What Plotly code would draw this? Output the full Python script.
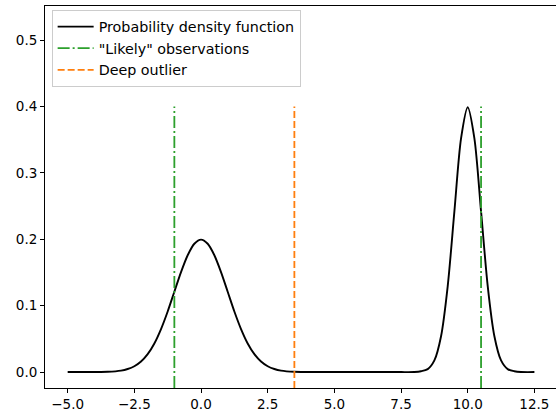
import plotly.graph_objects as go

# Density curve samples (x, density)
pdf_x = [-5.0, -4.5, -4.0, -3.5, -3.0, -2.75, -2.5, -2.25, -2.0, -1.75, -1.5, -1.25, -1.0,
         -0.75, -0.5, -0.25, 0.0, 0.25, 0.5, 0.75, 1.0, 1.25, 1.5, 1.75, 2.0, 2.25, 2.5,
         2.75, 3.0, 3.5, 4.0, 4.5, 5.0, 6.0, 7.0, 7.5, 8.0, 8.25, 8.5, 8.75, 9.0, 9.25,
         9.5, 9.75, 10.0, 10.25, 10.5, 10.75, 11.0, 11.25, 11.5, 11.75, 12.0, 12.5]
pdf_y = [0.0, 0.0000, 0.0001, 0.0004, 0.0022, 0.0046, 0.0088, 0.0159, 0.0270, 0.0431,
         0.0648, 0.0913, 0.1210, 0.1506, 0.1760, 0.1933, 0.1995, 0.1933, 0.1760, 0.1506,
         0.1210, 0.0913, 0.0648, 0.0431, 0.0270, 0.0159, 0.0088, 0.0046, 0.0022, 0.0004,
         0.0001, 0.0, 0.0, 0.0, 0.0, 0.0, 0.0001, 0.0012, 0.0044, 0.0175, 0.0540, 0.1296,
         0.2420, 0.3520, 0.3990, 0.3520, 0.2420, 0.1296, 0.0540, 0.0175, 0.0044, 0.0012,
         0.0001, 0.0]

# Marked observations
likely_x = [-1.0, 10.5]
outlier_x = [3.5]
marker_top = 0.4

y_range = [-0.024, 0.5515]
x_range = [-5.85, 13.31]

BLACK = "#000000"
GREEN = "#2ca02c"
ORANGE = "#ff7f0e"
FONT = "DejaVu Sans"
FS = 13.5
LEGEND_FS = 14.3

fig = go.Figure()

fig.add_trace(go.Scatter(
    x=pdf_x, y=pdf_y, mode="lines",
    line=dict(color=BLACK, width=1.9, shape="spline", smoothing=0.8),
    name="Probability density function",
))


def vline_trace(xs, color, dash, name):
    xx, yy = [], []
    for v in xs:
        xx += [v, v, None]
        yy += [y_range[0], marker_top, None]
    return go.Scatter(x=xx, y=yy, mode="lines", name=name,
                      line=dict(color=color, width=1.8, dash=dash))


fig.add_trace(vline_trace(likely_x, GREEN, "12px,3px,2px,3px", '"Likely" observations'))
fig.add_trace(vline_trace(outlier_x, ORANGE, "7px,3px", "Deep outlier"))

axis_common = dict(
    showgrid=False, zeroline=False, showline=True, linecolor=BLACK, linewidth=1,
    ticks="outside", ticklen=4, tickwidth=1, tickcolor=BLACK, automargin=False,
    tickfont=dict(family=FONT, size=FS, color=BLACK),
)

fig.update_xaxes(range=x_range, tickvals=[-5, -2.5, 0, 2.5, 5, 7.5, 10, 12.5],
                 tickformat=".1f", mirror=True, **axis_common)
fig.update_yaxes(range=y_range, tickvals=[0, 0.1, 0.2, 0.3, 0.4, 0.5],
                 tickformat=".1f", mirror=False, **axis_common)

fig.update_layout(
    width=556, height=412,
    margin=dict(l=45, r=0, t=6, b=24),
    plot_bgcolor="white", paper_bgcolor="white",
    font=dict(family=FONT, size=FS, color=BLACK),
    showlegend=True,
    legend=dict(
        x=0.013, y=0.99, xanchor="left", yanchor="top",
        bgcolor="white", bordercolor="#cccccc", borderwidth=1,
        font=dict(family=FONT, size=LEGEND_FS, color=BLACK),
        itemwidth=36, tracegroupgap=0,
    ),
)

fig.write_html("out.html")
